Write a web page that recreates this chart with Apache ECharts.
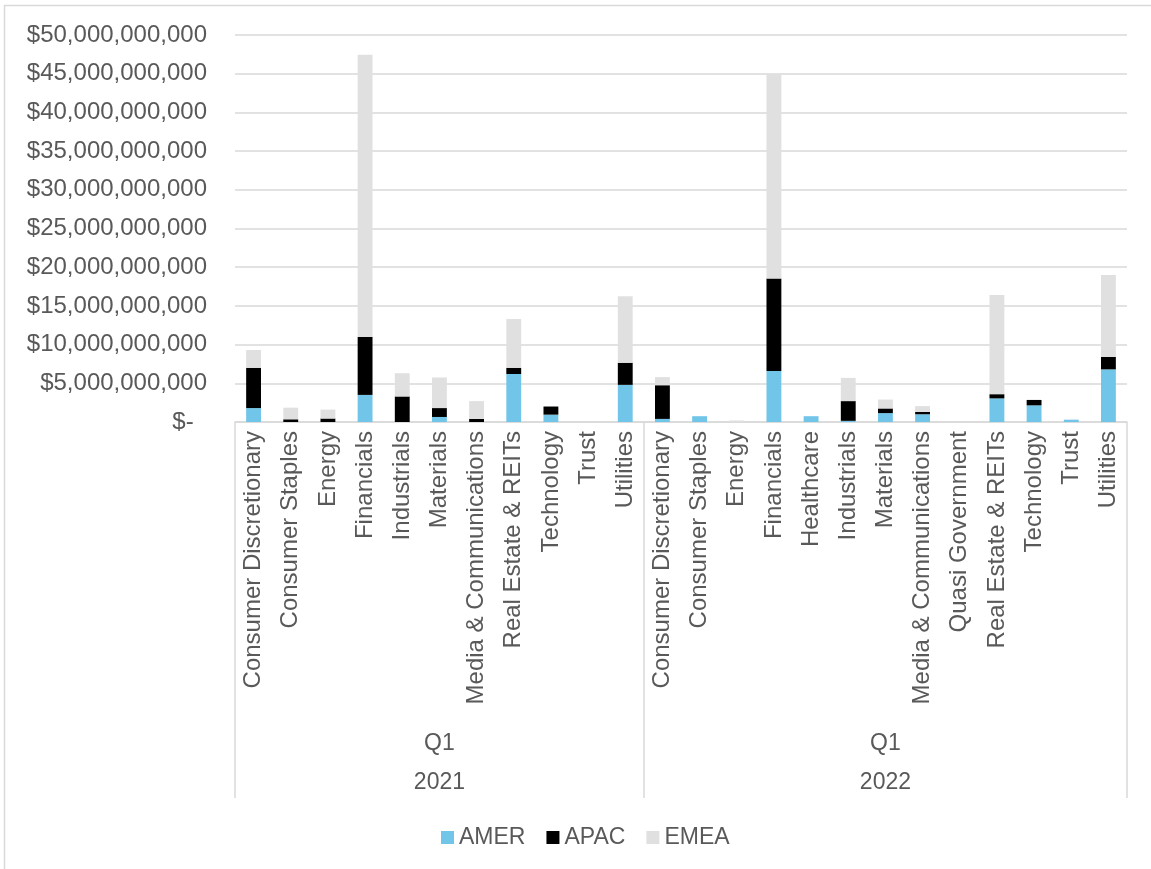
<!DOCTYPE html>
<html>
<head>
<meta charset="utf-8">
<script src="https://cdn.jsdelivr.net/npm/echarts@6/dist/echarts.min.js"></script>
<style>
  html, body { margin: 0; padding: 0; background: #fff; }
  #chart { width: 1151px; height: 869px; }
</style>
</head>
<body>
<div id="chart"></div>
<script>
// ------------------------------------------------------------
// data — sector totals by region, Q1 2021 / Q1 2022
// ------------------------------------------------------------
const categories = [
  "Consumer Discretionary", "Consumer Staples", "Energy", "Financials",
  "Industrials", "Materials", "Media & Communications", "Real Estate & REITs",
  "Technology", "Trust", "Utilities",
  "Consumer Discretionary", "Consumer Staples", "Energy", "Financials",
  "Healthcare", "Industrials", "Materials", "Media & Communications",
  "Quasi Government", "Real Estate & REITs", "Technology", "Trust", "Utilities",
];

// middle level (quarter) and top level (year) labels, placed at each group's centre
const quarterLabels = ["", "", "", "", "", "Q1", "", "", "", "", "",
  "", "", "", "", "", "", "Q1", "", "", "", "", "", ""];
const yearLabels = ["", "", "", "", "", "2021", "", "", "", "", "",
  "", "", "", "", "", "", "2022", "", "", "", "", "", ""];
// first category index of each year group (for the divider lines)
const groupStarts = [0, 11];

const amer = [
  1.8e9, 0, 0, 3.5e9, 0, 0.65e9, 0, 6.2e9, 0.95e9, 0, 4.8e9,
  0.4e9, 0.75e9, 0, 6.6e9, 0.75e9, 0.15e9, 1.15e9, 1.0e9, 0, 3.05e9, 2.15e9, 0.3e9, 6.8e9,
];
const apac = [
  5.2e9, 0.35e9, 0.45e9, 7.5e9, 3.3e9, 1.15e9, 0.4e9, 0.8e9, 1.05e9, 0, 2.85e9,
  4.35e9, 0, 0, 11.95e9, 0, 2.55e9, 0.6e9, 0.3e9, 0, 0.55e9, 0.7e9, 0, 1.6e9,
];
const emea = [
  2.3e9, 1.5e9, 1.15e9, 36.45e9, 3.0e9, 3.95e9, 2.3e9, 6.3e9, 0, 0, 8.6e9,
  1.05e9, 0, 0.2e9, 26.4e9, 0, 3.0e9, 1.15e9, 0.75e9, 0, 12.8e9, 0, 0, 10.6e9,
];

const seriesNames = ["AMER", "APAC", "EMEA"];
const seriesColors = ["#71C5E8", "#000000", "#E0E0E0"];

// ------------------------------------------------------------
// chart
// ------------------------------------------------------------
const TEXT = "#595959";
const LINE = "#D9D9D9";
const FONT = "'Liberation Sans', Arial, sans-serif";

const chart = echarts.init(document.getElementById("chart"));

function fmtDollar(v) {
  if (v === 0) return "$-  ";
  return "$" + v.toLocaleString("en-US");
}

const hiddenAxis = {
  type: "category",
  gridIndex: 0,
  position: "bottom",
  axisLine: { show: false },
  axisTick: { show: false },
  splitLine: { show: false },
};

chart.setOption({
  backgroundColor: "#fff",
  animation: false,
  textStyle: { fontFamily: FONT },
  graphic: [
    {
      type: "rect",
      shape: { x: 4.5, y: 5.5, width: 1170, height: 890 },
      style: { fill: "none", stroke: LINE, lineWidth: 1.5 },
      silent: true,
    },
  ],
  legend: {
    data: seriesNames,
    left: 436,
    top: 821,
    icon: "rect",
    itemWidth: 13,
    itemHeight: 13,
    itemGap: 21,
    textStyle: { color: TEXT, fontSize: 23, fontFamily: FONT },
  },
  grid: { left: 235, right: 24, top: 35, bottom: 447, containLabel: false },
  xAxis: [
    {
      type: "category",
      data: categories,
      axisLine: { show: true, lineStyle: { color: LINE, width: 1.5 } },
      axisTick: {
        show: true,
        interval: (idx) => groupStarts.includes(idx),
        length: 376,
        lineStyle: { color: LINE, width: 1.5 },
      },
      axisLabel: {
        interval: 0,
        rotate: 90,
        margin: 9,
        color: TEXT,
        fontSize: 24,
        fontFamily: FONT,
      },
    },
    {
      ...hiddenAxis,
      data: quarterLabels,
      axisLabel: { interval: 0, margin: 310, color: TEXT, fontSize: 23, fontFamily: FONT },
    },
    {
      ...hiddenAxis,
      data: yearLabels,
      axisLabel: { interval: 0, margin: 349, color: TEXT, fontSize: 23, fontFamily: FONT },
    },
  ],
  yAxis: {
    type: "value",
    min: 0,
    max: 50e9,
    interval: 5e9,
    axisLine: { show: false },
    axisTick: { show: false },
    splitLine: { lineStyle: { color: LINE, width: 1.5 } },
    axisLabel: {
      margin: 28,
      color: TEXT,
      fontSize: 24,
      fontFamily: FONT,
      formatter: fmtDollar,
    },
  },
  series: [amer, apac, emea].map((vals, i) => ({
    name: seriesNames[i],
    type: "bar",
    stack: "total",
    xAxisIndex: 0,
    barCategoryGap: "60%",
    itemStyle: { color: seriesColors[i] },
    data: vals,
  })),
});
</script>
</body>
</html>
